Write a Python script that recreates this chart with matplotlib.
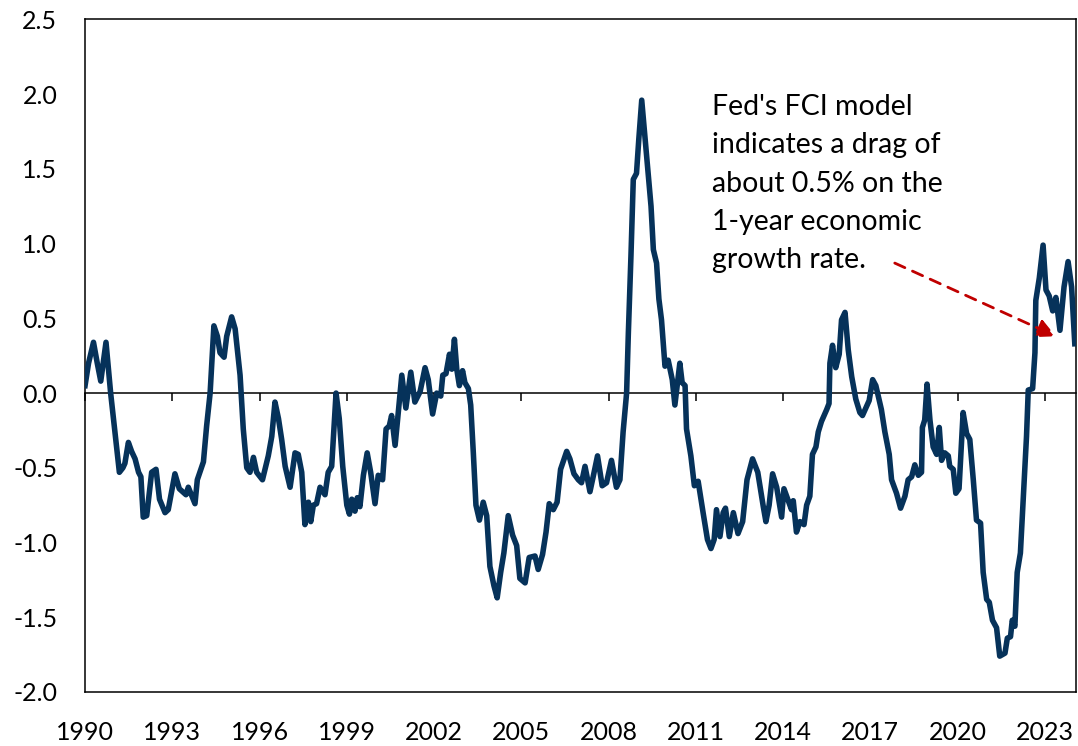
import matplotlib
matplotlib.use("Agg")
import matplotlib.pyplot as plt

plt.rcParams["font.family"] = ["Lato", "DejaVu Sans"]
plt.rcParams["axes.unicode_minus"] = False

# Fed FCI-G one-year growth impulse (decimal year, value)
years = [
    1990.00, 1990.12, 1990.29, 1990.42, 1990.54, 1990.72, 1990.88, 1991.02, 1991.18, 1991.30,
    1991.37, 1991.49, 1991.60, 1991.72, 1991.84, 1991.92, 1992.00, 1992.12, 1992.29, 1992.44,
    1992.56, 1992.75, 1992.86, 1993.09, 1993.24, 1993.47, 1993.55, 1993.78, 1993.86, 1994.07,
    1994.18, 1994.30, 1994.43, 1994.55, 1994.64, 1994.78, 1994.87, 1995.04, 1995.16, 1995.33,
    1995.44, 1995.56, 1995.67, 1995.79, 1995.90, 1996.10, 1996.30, 1996.42, 1996.53, 1996.65,
    1996.76, 1996.88, 1997.05, 1997.22, 1997.33, 1997.45, 1997.56, 1997.68, 1997.76, 1997.85,
    1997.96, 1998.08, 1998.25, 1998.36, 1998.48, 1998.63, 1998.74, 1998.86, 1999.00, 1999.09,
    1999.17, 1999.28, 1999.36, 1999.45, 1999.57, 1999.70, 1999.82, 1999.97, 2000.08, 2000.23,
    2000.35, 2000.46, 2000.54, 2000.66, 2000.75, 2000.89, 2001.03, 2001.20, 2001.34, 2001.52,
    2001.69, 2001.80, 2001.95, 2002.09, 2002.23, 2002.30, 2002.41, 2002.53, 2002.61, 2002.70,
    2002.78, 2002.87, 2002.98, 2003.06, 2003.18, 2003.26, 2003.35, 2003.44, 2003.56, 2003.69,
    2003.81, 2003.92, 2004.06, 2004.17, 2004.29, 2004.40, 2004.55, 2004.70, 2004.84, 2004.95,
    2005.13, 2005.27, 2005.47, 2005.58, 2005.73, 2005.85, 2005.96, 2006.10, 2006.23, 2006.35,
    2006.56, 2006.67, 2006.81, 2006.96, 2007.07, 2007.19, 2007.36, 2007.47, 2007.62, 2007.78,
    2007.93, 2008.10, 2008.27, 2008.39, 2008.50, 2008.62, 2008.68, 2008.77, 2008.85, 2008.96,
    2009.04, 2009.14, 2009.23, 2009.36, 2009.46, 2009.54, 2009.65, 2009.73, 2009.82, 2009.94,
    2010.05, 2010.19, 2010.28, 2010.45, 2010.53, 2010.63, 2010.68, 2010.83, 2010.95, 2011.08,
    2011.25, 2011.40, 2011.52, 2011.63, 2011.71, 2011.83, 2011.94, 2012.02, 2012.15, 2012.29,
    2012.45, 2012.61, 2012.76, 2012.95, 2013.13, 2013.32, 2013.41, 2013.52, 2013.64, 2013.78,
    2013.95, 2014.03, 2014.18, 2014.29, 2014.35, 2014.46, 2014.58, 2014.72, 2014.81, 2014.92,
    2015.01, 2015.13, 2015.21, 2015.32, 2015.50, 2015.58, 2015.61, 2015.70, 2015.81, 2015.93,
    2016.01, 2016.13, 2016.24, 2016.36, 2016.50, 2016.64, 2016.73, 2016.87, 2016.96, 2017.08,
    2017.19, 2017.38, 2017.50, 2017.65, 2017.73, 2017.90, 2018.04, 2018.19, 2018.30, 2018.42,
    2018.53, 2018.65, 2018.76, 2018.79, 2018.87, 2018.95, 2019.05, 2019.16, 2019.28, 2019.37,
    2019.45, 2019.56, 2019.68, 2019.73, 2019.85, 2019.94, 2020.05, 2020.19, 2020.31, 2020.42,
    2020.54, 2020.65, 2020.79, 2020.88, 2021.00, 2021.09, 2021.20, 2021.34, 2021.45, 2021.63,
    2021.71, 2021.82, 2021.88, 2021.97, 2022.05, 2022.16, 2022.25, 2022.37, 2022.43, 2022.58,
    2022.66, 2022.69, 2022.81, 2022.94, 2023.04, 2023.15, 2023.27, 2023.38, 2023.52, 2023.66,
    2023.80, 2023.92, 2024.03,
]
values = [
    0.05, 0.20, 0.34, 0.20, 0.08, 0.34, 0.00, -0.25, -0.53, -0.50,
    -0.47, -0.33, -0.39, -0.44, -0.53, -0.56, -0.83, -0.82, -0.53, -0.51,
    -0.71, -0.80, -0.78, -0.54, -0.64, -0.68, -0.63, -0.74, -0.58, -0.46,
    -0.22, 0.00, 0.45, 0.38, 0.27, 0.24, 0.38, 0.51, 0.43, 0.12,
    -0.24, -0.50, -0.53, -0.43, -0.53, -0.58, -0.42, -0.29, -0.06, -0.17,
    -0.31, -0.49, -0.63, -0.40, -0.41, -0.53, -0.88, -0.73, -0.86, -0.75,
    -0.74, -0.63, -0.68, -0.53, -0.49, 0.00, -0.17, -0.49, -0.75, -0.81,
    -0.71, -0.79, -0.70, -0.76, -0.55, -0.40, -0.53, -0.74, -0.55, -0.58,
    -0.24, -0.22, -0.15, -0.35, -0.17, 0.12, -0.10, 0.14, -0.06, 0.01,
    0.17, 0.09, -0.14, 0.00, -0.02, 0.12, 0.13, 0.26, 0.16, 0.36,
    0.16, 0.05, 0.15, 0.07, 0.03, -0.08, -0.40, -0.75, -0.85, -0.73,
    -0.82, -1.16, -1.29, -1.37, -1.20, -1.07, -0.82, -0.95, -1.02, -1.24,
    -1.27, -1.10, -1.09, -1.18, -1.08, -0.93, -0.74, -0.78, -0.73, -0.51,
    -0.39, -0.44, -0.54, -0.58, -0.60, -0.49, -0.66, -0.56, -0.42, -0.62,
    -0.60, -0.45, -0.63, -0.58, -0.26, 0.00, 0.40, 0.92, 1.43, 1.47,
    1.70, 1.96, 1.76, 1.47, 1.25, 0.96, 0.87, 0.63, 0.49, 0.18,
    0.22, 0.09, -0.08, 0.20, 0.07, 0.05, -0.24, -0.42, -0.62, -0.59,
    -0.80, -0.98, -1.04, -0.98, -0.78, -0.96, -0.80, -0.77, -0.96, -0.80,
    -0.94, -0.86, -0.58, -0.44, -0.53, -0.76, -0.86, -0.75, -0.54, -0.63,
    -0.83, -0.64, -0.72, -0.78, -0.72, -0.93, -0.86, -0.88, -0.75, -0.69,
    -0.41, -0.36, -0.26, -0.19, -0.11, -0.07, 0.20, 0.32, 0.17, 0.26,
    0.49, 0.54, 0.29, 0.11, -0.04, -0.13, -0.15, -0.09, -0.05, 0.09,
    0.05, -0.11, -0.26, -0.41, -0.58, -0.67, -0.77, -0.69, -0.58, -0.56,
    -0.48, -0.55, -0.53, -0.23, -0.18, 0.06, -0.18, -0.36, -0.41, -0.23,
    -0.45, -0.40, -0.42, -0.49, -0.51, -0.67, -0.64, -0.13, -0.27, -0.31,
    -0.58, -0.85, -0.87, -1.20, -1.38, -1.40, -1.52, -1.57, -1.76, -1.74,
    -1.64, -1.63, -1.52, -1.56, -1.20, -1.07, -0.74, -0.29, 0.02, 0.03,
    0.27, 0.62, 0.77, 0.99, 0.69, 0.65, 0.55, 0.64, 0.42, 0.71,
    0.88, 0.71, 0.33,
]

tick_years = list(range(1990, 2024, 3))
y_ticks = [-2.0, -1.5, -1.0, -0.5, 0.0, 0.5, 1.0, 1.5, 2.0, 2.5]

note = ("Fed's FCI model\nindicates a drag of\nabout 0.5% on the\n"
        "1-year economic\ngrowth rate.")

LINE_COLOR = "#06325A"
ARROW_COLOR = "#C00000"

fig = plt.figure(figsize=(10.78, 7.46), dpi=100)
ax = fig.add_axes([0.0789, 0.0724, 0.9192, 0.9015])

ax.plot(years, values, color=LINE_COLOR, linewidth=4.0, solid_joinstyle="round", zorder=3)

ax.set_xlim(1990, 2024.07)
ax.set_ylim(-2.0, 2.5)
ax.set_yticks(y_ticks)
ax.set_yticklabels([f"{v:.1f}" for v in y_ticks])
ax.set_xticks(tick_years)
ax.set_xticklabels([str(y) for y in tick_years])
ax.tick_params(axis="both", length=0, labelsize=18)
ax.tick_params(axis="y", pad=20)
ax.tick_params(axis="x", pad=21)
for sp in ax.spines.values():
    sp.set_linewidth(1.1)
    sp.set_color("black")

# category axis crossing at zero, with its tick marks
zero_axis = ax.secondary_xaxis(2.0 / 4.5)
zero_axis.set_xticks(tick_years)
zero_axis.tick_params(axis="x", direction="out", length=6, width=1.1,
                      labelbottom=False, labeltop=False)
zero_axis.spines["bottom"].set_linewidth(1.1)

ax.text(2011.55, 2.0, note, fontsize=20.5, va="top", ha="left", linespacing=1.58)

ax.annotate("", xy=(2023.38, 0.38), xytext=(2017.84, 0.87),
            arrowprops=dict(arrowstyle="-|>", linestyle=(0, (4, 3)), color=ARROW_COLOR,
                            lw=2, mutation_scale=28, shrinkA=0, shrinkB=0),
            zorder=4)

fig.savefig("out.png", dpi=100)
